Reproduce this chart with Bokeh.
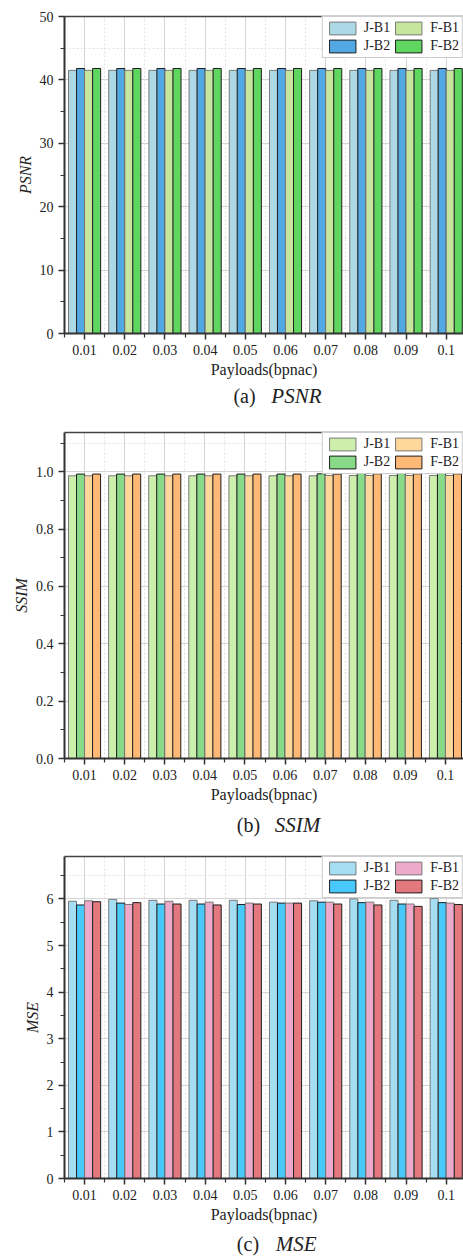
import numpy as np
from bokeh.plotting import figure
from bokeh.layouts import column
from bokeh.models import (Range1d, FixedTicker, SingleIntervalTicker, LinearAxis,
                          Legend, LegendItem, ColumnDataSource, PrintfTickFormatter)
from bokeh.transform import dodge
from bokeh.core.properties import value
from bokeh.embed import file_html
from bokeh.resources import INLINE

# ---------------- data ----------------
payloads = ["0.01", "0.02", "0.03", "0.04", "0.05", "0.06", "0.07", "0.08", "0.09", "0.1"]
series = ["J-B1", "J-B2", "F-B1", "F-B2"]

psnr_jb1 = [41.5, 41.5, 41.5, 41.5, 41.5, 41.5, 41.5, 41.5, 41.5, 41.5]
psnr_jb2 = [41.8, 41.8, 41.8, 41.8, 41.8, 41.8, 41.8, 41.8, 41.8, 41.8]
psnr_fb1 = [41.5, 41.5, 41.5, 41.5, 41.5, 41.5, 41.5, 41.5, 41.5, 41.5]
psnr_fb2 = [41.8, 41.8, 41.8, 41.8, 41.8, 41.8, 41.8, 41.8, 41.8, 41.8]

ssim_jb1 = [0.986, 0.986, 0.986, 0.986, 0.986, 0.986, 0.986, 0.987, 0.987, 0.987]
ssim_jb2 = [0.992, 0.992, 0.992, 0.992, 0.992, 0.992, 0.993, 0.994, 0.994, 0.994]
ssim_fb1 = [0.986, 0.986, 0.986, 0.986, 0.986, 0.986, 0.987, 0.987, 0.987, 0.987]
ssim_fb2 = [0.992, 0.992, 0.992, 0.992, 0.992, 0.992, 0.992, 0.993, 0.993, 0.993]

mse_jb1 = [5.95, 5.99, 5.97, 5.97, 5.97, 5.93, 5.96, 6.00, 5.97, 6.01]
mse_jb2 = [5.87, 5.91, 5.89, 5.89, 5.88, 5.91, 5.93, 5.92, 5.89, 5.92]
mse_fb1 = [5.96, 5.88, 5.95, 5.93, 5.91, 5.91, 5.93, 5.93, 5.89, 5.91]
mse_fb2 = [5.94, 5.92, 5.89, 5.87, 5.89, 5.91, 5.89, 5.87, 5.84, 5.88]

psnr_colors = ["#ADD8E6", "#52A8E3", "#C6E69D", "#5FD65F"]
ssim_colors = ["#CDEFAC", "#88DA88", "#FFD79B", "#FFB875"]
mse_colors = ["#A5DDF3", "#48C9FA", "#EDAACB", "#E3787F"]
line_colors = ["#7a7a7a", "#1e1e1e", "#7a7a7a", "#1e1e1e"]

SERIF = "Liberation Serif"
W = 463


def panel(vals, colors, ylabel, yend, interval, fmt, height, left, top, bottom, xend):
    p = figure(width=W, height=height, output_backend="svg", toolbar_location=None,
               x_range=Range1d(0.5, xend), y_range=Range1d(0, yend),
               min_border_left=left, min_border_right=0, min_border_top=top,
               min_border_bottom=bottom, x_axis_location="below")
    p.outline_line_color = None
    p.background_fill_color = "white"
    n = len(payloads)
    xs = np.arange(1, n + 1)
    data = {"x": xs, "label": payloads}
    for s, v in zip(series, vals):
        data[s] = v
    src = ColumnDataSource(data)
    offsets = [-0.3, -0.1, 0.1, 0.3]
    items = []
    for s, off, c, lc in zip(series, offsets, colors, line_colors):
        r = p.vbar(x=dodge("x", off), top=s, width=0.2, source=src,
                   fill_color=c, line_color=lc, line_width=1)
        items.append(LegendItem(label=s, renderers=[r]))

    # x axis
    xt = FixedTicker(ticks=list(xs), minor_ticks=list(np.arange(0.5, n + 1, 1.0)))
    p.xaxis.ticker = xt
    p.xaxis.major_label_overrides = {int(i): l for i, l in zip(xs, payloads)}
    p.xaxis.axis_label = "Payloads(bpnac)"
    # y axis
    p.yaxis.ticker = SingleIntervalTicker(interval=interval, num_minor_ticks=2)
    if fmt:
        p.yaxis.formatter = PrintfTickFormatter(format=fmt)
    p.yaxis.axis_label = ylabel
    p.yaxis.axis_label_text_font_style = "italic"
    p.xaxis.axis_label_text_font_style = "normal"
    for ax in (p.xaxis[0], p.yaxis[0]):
        ax.axis_line_color = "#333333"
        ax.axis_line_width = 2
        ax.major_tick_line_color = "#333333"
        ax.major_tick_line_width = 1.5
        ax.minor_tick_line_color = "#333333"
        ax.minor_tick_line_width = 1.2
        ax.major_tick_out = 6
        ax.major_tick_in = 0
        ax.minor_tick_out = 4
        ax.minor_tick_in = 0
        ax.major_label_text_font = SERIF
        ax.major_label_text_font_size = "14px"
        ax.major_label_text_color = "#222222"
        ax.axis_label_text_font = SERIF
        ax.axis_label_text_font_size = "16px"
        ax.axis_label_text_color = "#222222"
        ax.major_label_standoff = 5
        ax.axis_label_standoff = 3
    # top frame line
    top_ax = LinearAxis(ticker=FixedTicker(ticks=[]), major_label_text_font_size="0px",
                        axis_line_color="#444444", axis_line_width=1.5,
                        major_tick_line_color=None, minor_tick_line_color=None)
    p.add_layout(top_ax, "above")

    # grids
    for g in (p.xgrid[0], p.ygrid[0]):
        g.grid_line_color = "#d4d4d4"
        g.grid_line_width = 1
        g.minor_grid_line_color = "#e2e2e2"
        g.minor_grid_line_dash = "2 2"
        g.minor_grid_line_width = 1

    leg = Legend(items=items, location="top_right", ncols=2, margin=0, padding=3,
                 spacing=2, glyph_width=33, glyph_height=16, label_standoff=5,
                 label_text_font=SERIF, label_text_font_size="14px",
                 label_text_color="#222222", label_height=16,
                 border_line_color="#999999", border_line_width=1,
                 background_fill_color="white", background_fill_alpha=1)
    p.add_layout(leg, "center")
    return p


def caption(letter, name, height, ytop, x1, x2):
    c = figure(width=W, height=height, output_backend="svg", toolbar_location=None,
               x_range=Range1d(0, W), y_range=Range1d(0, height),
               min_border=0)
    c.axis.visible = False
    c.grid.visible = False
    c.outline_line_color = None
    c.text(x=[x1], y=[height - ytop], text=[letter], text_font=value(SERIF),
           text_font_size="20px", text_baseline="middle", text_align="left",
           text_color="#222222")
    c.text(x=[x2], y=[height - ytop], text=[name], text_font=value(SERIF),
           text_font_style="italic", text_font_size="21px", text_baseline="middle",
           text_align="left", text_color="#222222")
    return c


p1 = panel([psnr_jb1, psnr_jb2, psnr_fb1, psnr_fb2], psnr_colors, "PSNR", 50, 10, None,
           380, 62, 16, 47, 10.43)
c1 = caption("(a)", "PSNR", 40, 15, 196, 240)
p2 = panel([ssim_jb1, ssim_jb2, ssim_fb1, ssim_fb2], ssim_colors, "SSIM", 1.137, 0.2, "%.1f",
           385, 64, 12, 47, 10.45)
c2 = caption("(b)", "SSIM", 40, 19, 200, 244)
p3 = panel([mse_jb1, mse_jb2, mse_fb1, mse_fb2], mse_colors, "MSE", 6.91, 1, None,
           380, 55, 11, 46, 10.43)
c3 = caption("(c)", "MSE", 34, 18, 200, 245)

layout = column(p1, c1, p2, c2, p3, c3, spacing=0)
open("out.html", "w").write(file_html(layout, INLINE))
